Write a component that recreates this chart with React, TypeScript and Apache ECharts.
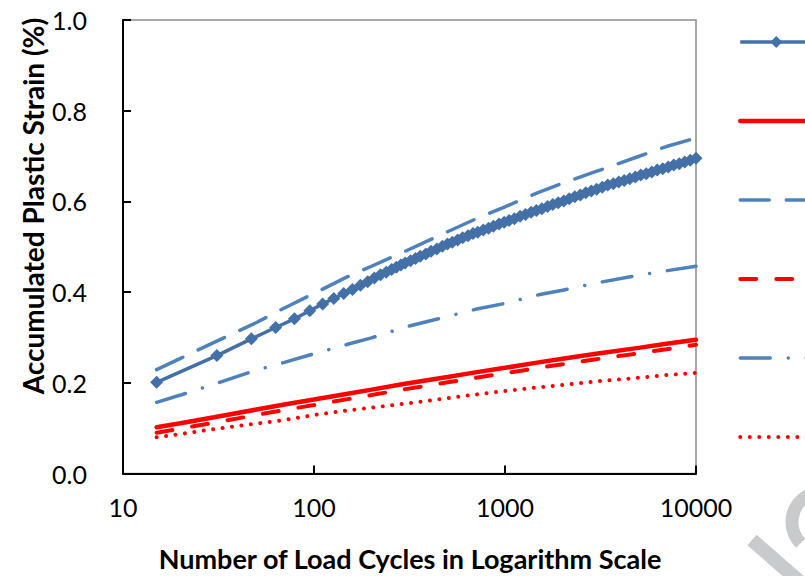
import React, { useEffect, useRef } from "react";
import * as echarts from "echarts";

// Cycle counts for the smooth (unmarked) curves
const cycles = [15, 20, 30, 50, 70, 100, 150, 200, 300, 500, 700, 1000, 1500, 2000, 3000, 5000, 7000, 10000];
const redSolid = [0.102, 0.111, 0.124, 0.141, 0.152, 0.163, 0.176, 0.185, 0.198, 0.213, 0.223, 0.233, 0.245, 0.253, 0.264, 0.277, 0.286, 0.295];
const blueDashed = [0.229, 0.254, 0.289, 0.333, 0.365, 0.397, 0.434, 0.457, 0.49, 0.533, 0.561, 0.588, 0.62, 0.64, 0.666, 0.699, 0.721, 0.74];
const redDashed = [0.09, 0.099, 0.112, 0.129, 0.14, 0.151, 0.164, 0.173, 0.186, 0.201, 0.211, 0.221, 0.233, 0.241, 0.252, 0.265, 0.274, 0.284];
const blueDashDot = [0.157, 0.173, 0.197, 0.228, 0.245, 0.264, 0.285, 0.299, 0.323, 0.346, 0.362, 0.375, 0.394, 0.404, 0.42, 0.437, 0.447, 0.457];
const redDotted = [0.08, 0.087, 0.098, 0.11, 0.118, 0.129, 0.139, 0.145, 0.154, 0.166, 0.174, 0.182, 0.19, 0.195, 0.203, 0.211, 0.217, 0.222];

// Marked (diamond) series: cycles and strain
const markedCycles = [15, 31, 47, 63, 79, 95, 111, 127, 143, 159, 175, 191, 207, 223, 239, 255, 270, 285, 300, 320, 340, 360, 385, 410, 440, 470, 500, 530, 565, 600, 640, 680, 720, 770, 820, 870, 930, 990, 1050, 1120, 1200, 1280, 1370, 1460, 1560, 1670, 1780, 1900, 2030, 2170, 2320, 2480, 2650, 2830, 3020, 3230, 3450, 3690, 3940, 4210, 4500, 4810, 5140, 5490, 5870, 6270, 6700, 7160, 7650, 8170, 8730, 9330, 10000];
const markedStrain = [0.201, 0.26, 0.297, 0.322, 0.341, 0.359, 0.374, 0.386, 0.397, 0.406, 0.415, 0.423, 0.431, 0.438, 0.444, 0.45, 0.455, 0.46, 0.464, 0.469, 0.474, 0.479, 0.484, 0.49, 0.495, 0.501, 0.506, 0.51, 0.515, 0.52, 0.524, 0.529, 0.532, 0.537, 0.541, 0.545, 0.55, 0.554, 0.558, 0.562, 0.567, 0.571, 0.576, 0.58, 0.584, 0.589, 0.593, 0.597, 0.601, 0.606, 0.61, 0.614, 0.619, 0.623, 0.627, 0.631, 0.636, 0.639, 0.643, 0.646, 0.65, 0.654, 0.658, 0.661, 0.665, 0.669, 0.672, 0.676, 0.68, 0.683, 0.687, 0.691, 0.695];

const seriesNames = ["Measured", "Model A", "Model B", "Model C", "Model D", "Model E"];
const yTicks = [0, 0.2, 0.4, 0.6, 0.8, 1.0];
const xTitle = "Number of Load Cycles in Logarithm Scale";
const yTitle = "Accumulated Plastic Strain (%)";

const BLUE_DARK = "#4470A8";
const BLUE = "#4F81BD";
const RED = "#FF0000";
const WM = "#c9cacc";
const FONT = "Lato, 'Open Sans', sans-serif";

const pair = (xs: number[], ys: number[]) => xs.map((x, i) => [x, ys[i]]);

export default function App() {
  const ref = useRef<HTMLDivElement>(null);
  useEffect(() => {
    if (!ref.current) return;
    const chart = echarts.init(ref.current, null, { renderer: "svg" });
    const widths = [3.5, 4.5, 3.5, 4, 3.5, 4];
    const plain = (i: number, ys: number[], color: string, type: any) => ({
      name: seriesNames[i],
      type: "line",
      data: pair(cycles, ys),
      symbol: "none",
      smooth: false,
      clip: false,
      color,
      lineStyle: { color, width: widths[i], type, cap: "round" },
    });
    chart.setOption({
      animation: false,
      backgroundColor: "#ffffff",
      grid: {
        left: 123,
        right: 109,
        top: 20,
        bottom: 102.5,
        show: true,
        borderColor: "#8c8c8c",
        borderWidth: 1.5,
        backgroundColor: "transparent",
      },
      legend: {
        orient: "vertical",
        left: 733,
        top: 29.5,
        itemWidth: 72,
        itemHeight: 15,
        itemGap: 65.5,
        selectedMode: false,
        formatter: () => "",
        textStyle: { fontSize: 1 },
        data: seriesNames.map((name, i) => ({
          name,
          itemStyle: i === 0 ? { color: BLUE_DARK } : { opacity: 0 },
          lineStyle: { width: widths[i] },
        })),
      },
      xAxis: {
        type: "log",
        logBase: 10,
        min: 10,
        max: 10000,
        axisLine: { show: true, lineStyle: { color: "#000", width: 2 } },
        axisTick: { show: true, inside: true, length: 8, lineStyle: { color: "#000", width: 2 } },
        minorTick: { show: false },
        splitLine: { show: false },
        axisLabel: {
          fontSize: 25,
          fontFamily: FONT,
          color: "#000",
          margin: 21,
          formatter: (v: number) => String(Math.round(v)),
        },
      },
      yAxis: {
        type: "value",
        min: 0,
        max: 1,
        interval: 0.2,
        axisLine: { show: true, lineStyle: { color: "#000", width: 2 } },
        axisTick: { show: true, inside: true, length: 8, lineStyle: { color: "#000", width: 2 } },
        splitLine: { show: false },
        axisLabel: {
          fontSize: 25,
          fontFamily: FONT,
          color: "#000",
          margin: 36,
          formatter: (v: number) => {
            const t = yTicks.find((k) => Math.abs(k - v) < 1e-9);
            return (t ?? v).toFixed(1);
          },
        },
      },
      graphic: [
        {
          type: "arc",
          silent: true,
          shape: { cx: 822, cy: 522, r: 30, startAngle: Math.PI * 0.75, endAngle: Math.PI * 1.35 },
          style: { stroke: WM, lineWidth: 13, fill: "none" },
          z: -1,
        },
        {
          type: "line",
          silent: true,
          shape: { x1: 752, y1: 540, x2: 800, y2: 582 },
          style: { stroke: WM, lineWidth: 14 },
          z: -1,
        },
        {
          type: "text",
          x: 410,
          y: 558,
          style: {
            text: xTitle,
            font: `bold 27px ${FONT}`,
            fill: "#000",
            textAlign: "center",
            textVerticalAlign: "middle",
          },
        },
        {
          type: "text",
          x: 33,
          y: 206,
          rotation: Math.PI / 2,
          style: {
            text: yTitle,
            font: `bold 28px ${FONT}`,
            fill: "#000",
            textAlign: "center",
            textVerticalAlign: "middle",
          },
        },
      ],
      series: [
        {
          name: seriesNames[0],
          type: "line",
          data: pair(markedCycles, markedStrain),
          symbol: "diamond",
          symbolSize: 13,
          clip: false,
          color: BLUE_DARK,
          itemStyle: { color: BLUE_DARK },
          lineStyle: { color: BLUE_DARK, width: 3.5 },
          z: 3,
        },
        plain(1, redSolid, RED, "solid"),
        plain(2, blueDashed, BLUE, [29, 17]),
        plain(3, redDashed, RED, [16, 20]),
        plain(4, blueDashDot, BLUE, [30, 18, 0.01, 18]),
        plain(5, redDotted, RED, [0.01, 9.5]),
      ],
    });
    return () => chart.dispose();
  }, []);
  return (
    <div
      ref={ref}
      style={{ position: "fixed", left: 0, top: 0, width: 805, height: 576, background: "#fff" }}
    />
  );
}
